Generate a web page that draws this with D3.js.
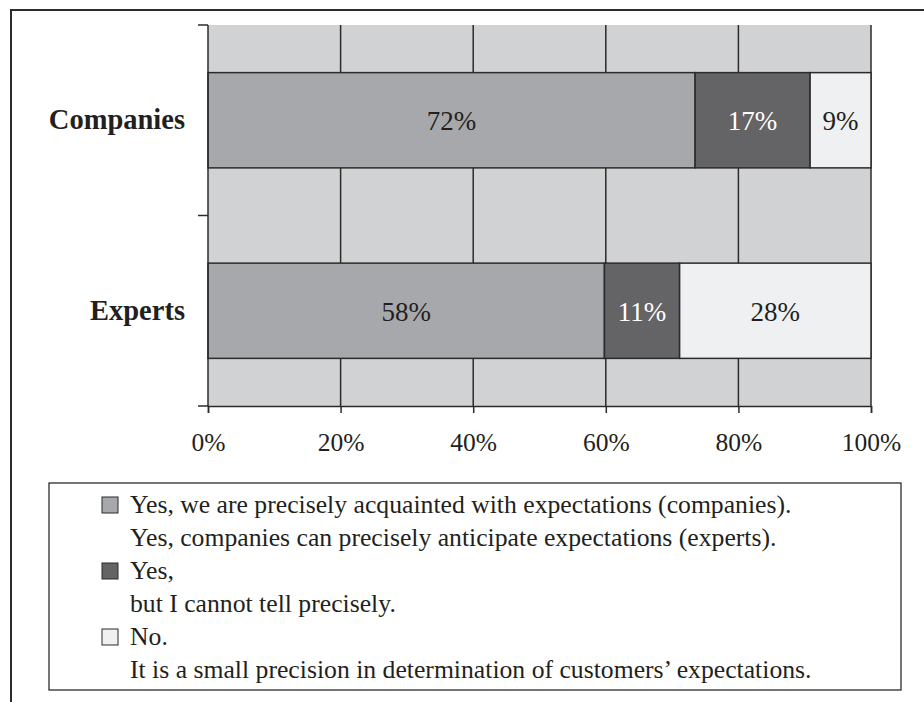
<!DOCTYPE html>
<html>
<head>
<meta charset="utf-8">
<script src="https://cdn.jsdelivr.net/npm/d3@7"></script>
<style>
  html, body { margin: 0; padding: 0; background: #fff; }
  svg { display: block; }
  text { font-family: "Liberation Serif", "Times New Roman", serif; }
</style>
</head>
<body>
<svg id="chart" width="924" height="702"></svg>
<script>
// ---- data ----
const categories = ["Companies", "Experts"];
const seriesKeys = ["yes", "yesBut", "no"];
const yesValues    = [72, 58];
const yesButValues = [17, 11];
const noValues     = [9, 28];
const xTickValues  = [0, 0.2, 0.4, 0.6, 0.8, 1.0];
const legendLines = [
  ["Yes, we are precisely acquainted with expectations (companies).",
   "Yes, companies can precisely anticipate expectations (experts)."],
  ["Yes,", "but I cannot tell precisely."],
  ["No.", "It is a small precision in determination of customers\u2019 expectations."]
];

// ---- styles ----
const colors = { yes: "#a7a8ab", yesBut: "#646366", no: "#eff0f2" };
const labelColors = { yes: "#231f20", yesBut: "#ffffff", no: "#231f20" };
const ink = "#2b2b2b";

const rows = categories.map((c, i) => ({
  category: c, yes: yesValues[i], yesBut: yesButValues[i], no: noValues[i]
}));

const svg = d3.select("#chart");

// outer frame (runs off the page to the right and bottom)
svg.append("path")
  .attr("d", "M11,702 V10 H924")
  .attr("fill", "none").attr("stroke", ink).attr("stroke-width", 2);

const plot = { left: 208, right: 871, top: 25, bottom: 406 };

const x = d3.scaleLinear().domain([0, 1]).range([plot.left, plot.right]);
const y = d3.scaleBand().domain(categories)
  .range([plot.top, plot.bottom]).paddingInner(0.5).paddingOuter(0.25);

// plot background
svg.append("rect")
  .attr("x", x(0)).attr("y", plot.top)
  .attr("width", x(1) - x(0)).attr("height", plot.bottom - plot.top)
  .attr("fill", "#d1d2d4");

// vertical gridlines
svg.append("g").selectAll("line")
  .data(xTickValues.slice(1))
  .join("line")
  .attr("x1", d => x(d)).attr("x2", d => x(d))
  .attr("y1", plot.top).attr("y2", plot.bottom)
  .attr("stroke", ink).attr("stroke-width", 1.5);

// stacked, normalized bars
const stack = d3.stack().keys(seriesKeys).offset(d3.stackOffsetExpand);
const layers = stack(rows);

const gBars = svg.append("g");
layers.forEach(layer => {
  const key = layer.key;
  gBars.selectAll("rect." + key)
    .data(layer)
    .join("rect")
    .attr("class", key)
    .attr("x", d => x(d[0]))
    .attr("y", d => y(d.data.category))
    .attr("width", d => x(d[1]) - x(d[0]))
    .attr("height", y.bandwidth())
    .attr("fill", colors[key])
    .attr("stroke", ink).attr("stroke-width", 1.5);

  gBars.selectAll("text." + key)
    .data(layer)
    .join("text")
    .attr("class", key)
    .attr("x", d => (x(d[0]) + x(d[1])) / 2)
    .attr("y", d => y(d.data.category) + y.bandwidth() / 2 + 10)
    .attr("text-anchor", "middle")
    .attr("font-size", 27)
    .attr("fill", labelColors[key])
    .text(d => d.data[key] + "%");
});

// y axis line and ticks at band boundaries
const boundaries = categories.map(c => y(c) - y.step() * 0.25).concat([plot.bottom]);
svg.append("line")
  .attr("x1", x(0)).attr("x2", x(0))
  .attr("y1", plot.top).attr("y2", plot.bottom)
  .attr("stroke", ink).attr("stroke-width", 1.5);
svg.append("g").selectAll("line")
  .data(boundaries).join("line")
  .attr("x1", x(0) - 10).attr("x2", x(0))
  .attr("y1", d => d).attr("y2", d => d)
  .attr("stroke", ink).attr("stroke-width", 1.5);

// category labels
svg.append("g").selectAll("text")
  .data(categories).join("text")
  .attr("x", 185)
  .attr("y", d => y(d) + y.bandwidth() / 2 + 9)
  .attr("text-anchor", "end")
  .attr("font-size", 28.5)
  .attr("font-weight", "bold")
  .attr("fill", "#231f20")
  .text(d => d);

// x axis
const xAxis = d3.axisBottom(x)
  .tickValues(xTickValues)
  .tickSize(7)
  .tickPadding(20)
  .tickFormat(d3.format(".0%"));
const gx = svg.append("g")
  .attr("transform", `translate(0,${plot.bottom})`)
  .call(xAxis);
gx.select(".domain").attr("stroke", ink).attr("stroke-width", 1.5);
gx.selectAll(".tick line").attr("stroke", ink).attr("stroke-width", 1.5);
gx.selectAll(".tick text")
  .attr("font-family", "Liberation Serif, Times New Roman, serif")
  .attr("font-size", 25.5)
  .attr("fill", "#231f20");

// legend
const legend = { left: 49, right: 901, top: 483, bottom: 690 };
svg.append("rect")
  .attr("x", legend.left).attr("y", legend.top)
  .attr("width", legend.right - legend.left)
  .attr("height", legend.bottom - legend.top)
  .attr("fill", "#fff").attr("stroke", ink).attr("stroke-width", 1.3);

const lineH = 33;
const firstBaseline = 513;
const gLeg = svg.append("g");
let lineIdx = 0;
legendLines.forEach((lines, i) => {
  const base = firstBaseline + lineIdx * lineH;
  gLeg.append("rect")
    .attr("x", 102).attr("y", base - 16)
    .attr("width", 16).attr("height", 16)
    .attr("fill", colors[seriesKeys[i]])
    .attr("stroke", ink).attr("stroke-width", 1);
  lines.forEach((t, j) => {
    gLeg.append("text")
      .attr("x", 130)
      .attr("y", firstBaseline + (lineIdx + j) * lineH)
      .attr("font-size", 25.7)
      .attr("fill", "#231f20")
      .text(t);
  });
  lineIdx += lines.length;
});
</script>
</body>
</html>
